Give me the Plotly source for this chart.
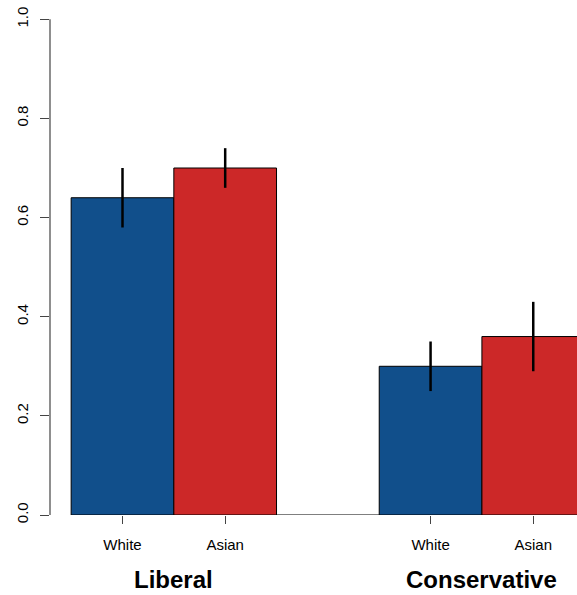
import plotly.graph_objects as go

# Share of respondents by ideology group and race, with error ranges
groups = ["Liberal", "Conservative"]
races = ["White", "Asian"]
white_vals = [0.64, 0.30]
asian_vals = [0.70, 0.36]
white_err = [0.06, 0.05]
asian_err = [0.04, 0.07]
y_ticks = [0.0, 0.2, 0.4, 0.6, 0.8, 1.0]

# bar centres: two bars per group, one bar-width gap between groups
white_x = [1.5, 4.5]
asian_x = [2.5, 5.5]
group_x = [2.0, 5.0]

BLUE = "#114F8B"
RED = "#CC2828"
FONT = "Liberation Sans, Arial, Helvetica, sans-serif"

fig = go.Figure()
fig.add_trace(go.Bar(
    x=white_x, y=white_vals, width=1, name="White",
    marker=dict(color=BLUE, line=dict(color="black", width=1)),
    error_y=dict(type="data", array=white_err, color="black", thickness=2.5, width=0),
))
fig.add_trace(go.Bar(
    x=asian_x, y=asian_vals, width=1, name="Asian",
    marker=dict(color=RED, line=dict(color="black", width=1)),
    error_y=dict(type="data", array=asian_err, color="black", thickness=2.5, width=0),
))

# x axis baseline spanning first to last tick
fig.add_shape(type="line", xref="x", yref="y", x0=white_x[0], x1=asian_x[-1], y0=0, y1=0,
              line=dict(color="#555", width=1.5), layer="below")
# y axis line spanning the tick range
fig.add_shape(type="line", xref="paper", yref="y", x0=0, x1=0, y0=y_ticks[0], y1=y_ticks[-1],
              line=dict(color="#444", width=1.2))

# group names below the race labels
for gx, g in zip(group_x, groups):
    fig.add_annotation(x=gx, y=-0.126, xref="x", yref="paper", text=f"<b>{g}</b>",
                       showarrow=False, font=dict(family=FONT, size=24, color="black"),
                       yanchor="middle")

tick_x = [white_x[0], asian_x[0], white_x[1], asian_x[1]]
tick_text = [races[0], races[1], races[0], races[1]]

fig.update_layout(
    width=577, height=595,
    margin=dict(l=50, r=0, t=0, b=80),
    paper_bgcolor="white", plot_bgcolor="white",
    barmode="overlay", showlegend=False,
    font=dict(family=FONT, size=15, color="black"),
    xaxis=dict(range=[0.794, 5.926], tickvals=tick_x, ticktext=tick_text,
               ticks="outside", ticklen=8, tickcolor="#444", tickwidth=1.2,
               showgrid=False, zeroline=False, showline=False,
               ticklabelstandoff=8, tickfont=dict(size=15)),
    yaxis=dict(range=[0, 1.0389], tickvals=y_ticks, tickformat=".1f",
               tickangle=-90, ticks="outside", ticklen=9, tickcolor="#444", tickwidth=1.2,
               showgrid=False, zeroline=False, showline=False,
               ticklabelstandoff=6, tickfont=dict(size=15)),
)

fig.write_html("out.html")
